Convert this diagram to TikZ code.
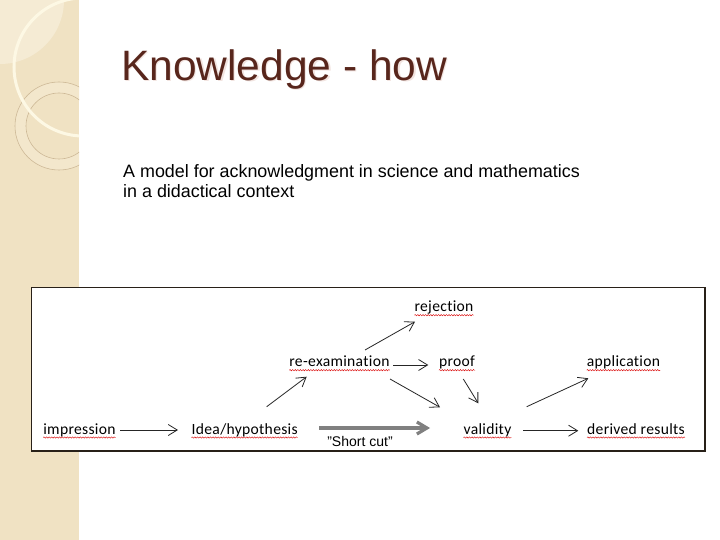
\documentclass[tikz,border=0pt]{standalone}
\usepackage{fontspec}
\setmainfont{Liberation Sans}
\newfontfamily\wordfont[Ligatures={NoCommon},LetterSpace=2]{Carlito}
\usetikzlibrary{arrows.meta,decorations.pathmorphing}

\definecolor{stripe}{RGB}{240,226,195}
\definecolor{stripelight}{RGB}{245,235,212}
\definecolor{ringfill}{RGB}{243,231,204}
\definecolor{ringline}{RGB}{205,184,150}
\definecolor{cream}{RGB}{253,248,228}
\definecolor{titlebrown}{RGB}{88,38,28}
\definecolor{titleshadow}{RGB}{242,228,224}
\definecolor{boxline}{RGB}{40,32,24}

\tikzset{
    word/.style={font=\wordfont\fontsize{15.6}{18}\selectfont, inner sep=0pt, anchor=base},
    arr/.style={draw=black!85, line width=0.8pt, -{Straight Barb[length=9pt,width=11pt]}},
    shortarr/.style={draw=black!50, line width=3.2pt, -{Straight Barb[length=10pt,width=12pt]}},
    squiggle/.style={draw=red!85!black, line width=0.4pt, decorate,
        decoration={snake,amplitude=0.7pt,segment length=2.6pt}},
}

\begin{document}
\begin{tikzpicture}[x=1pt,y=-1pt]
        \useasboundingbox (0,0) rectangle (720,540);
        \fill[white] (0,0) rectangle (720,540);

        % left stripe
        \fill[stripe] (0,0) rectangle (79,540);
        \begin{scope}
            \clip (0,0) rectangle (79,540);
            \fill[stripelight] (0,0) circle (64);
            \fill[ringfill, even odd rule] (59,126) circle (44) (59,126) circle (33);
            \draw[ringline, line width=0.6pt] (59,126) circle (44);
            \draw[ringline, line width=0.6pt] (59,126) circle (33);
            \draw[cream, line width=3pt] (83,67) circle (69);
        \end{scope}

        % title
        \node[font=\fontsize{42.5}{48}\selectfont, text=titleshadow, anchor=base west, inner sep=0pt] (titleshadow) at (122.2,81.9) {Knowledge - how};
        \node[font=\fontsize{42.5}{48}\selectfont, text=titlebrown, anchor=base west, inner sep=0pt] (title) at (121,80.7) {Knowledge - how};
        \node[font=\fontsize{17.9}{20}\selectfont, anchor=base west, inner sep=0pt] (subtitle) at (123,177.7) {A model for acknowledgment in science and mathematics};
        \node[font=\fontsize{17.9}{20}\selectfont, anchor=base west, inner sep=0pt] (subtitletwo) at (123,197.7) {in a didactical context};

        % diagram box
        \draw[boxline, line width=1.5pt, fill=white] (31.5,287.5) rectangle (705,451);

        \node[word] (impression) at (79.5,434) {impression};
        \node[word] (idea) at (244.7,434) {Idea/hypothesis};
        \node[word] (reexam) at (339.5,366.7) {re-examination};
        \node[word] (rejection) at (444,311.7) {rejection};
        \node[word] (proof) at (457,366.7) {proof};
        \node[word] (validity) at (487.5,434) {validity};
        \node[word] (application) at (623.5,366.7) {application};
        \node[word] (derived) at (636,434) {derived results};
        \node[font=\fontsize{14}{16}\selectfont, inner sep=0pt, anchor=base] (shortcut) at (360,446.5) {"Short cut"};

        \draw[squiggle] ([yshift=-3.5pt]impression.base west) -- ([yshift=-3.5pt]impression.base east);
        \draw[squiggle] ([yshift=-3.5pt]idea.base west) -- ([yshift=-3.5pt]idea.base east);
        \draw[squiggle] ([yshift=-3.5pt]reexam.base west) -- ([yshift=-3.5pt]reexam.base east);
        \draw[squiggle] ([yshift=-3.5pt]rejection.base west) -- ([yshift=-3.5pt]rejection.base east);
        \draw[squiggle] ([yshift=-3.5pt]proof.base west) -- ([yshift=-3.5pt]proof.base east);
        \draw[squiggle] ([yshift=-3.5pt]validity.base west) -- ([yshift=-3.5pt]validity.base east);
        \draw[squiggle] ([yshift=-3.5pt]application.base west) -- ([yshift=-3.5pt]application.base east);
        \draw[squiggle] ([yshift=-3.5pt]derived.base west) -- ([yshift=-3.5pt]derived.base east);

        \draw[arr] ([shift={(40.5,-4)}]impression.base) -- ([shift={(-66.7,-4)}]idea.base);
        \draw[arr] ([shift={(22,-27.3)}]idea.base) -- ([shift={(-32.8,10)}]reexam.base);
        \draw[arr] ([shift={(25.5,-16.7)}]reexam.base) -- ([shift={(-29,10)}]rejection.base);
        \draw[arr] ([shift={(53.8,-1.7)}]reexam.base) -- ([shift={(-28.7,-1.7)}]proof.base);
        \draw[arr] ([shift={(50.5,12.3)}]reexam.base) -- ([shift={(-47.5,-26.7)}]validity.base);
        \draw[arr] ([shift={(6.3,12.3)}]proof.base) -- ([shift={(-9.2,-30.7)}]validity.base);
        \draw[shortarr] ([shift={(74.3,-6)}]idea.base) -- ([shift={(-57.5,-6)}]validity.base);
        \draw[arr] ([shift={(35.8,-3.3)}]validity.base) -- ([shift={(-57.7,-3.3)}]derived.base);
        \draw[arr] ([shift={(39.2,-27.3)}]validity.base) -- ([shift={(-35.2,11.6)}]application.base);
\end{tikzpicture}
\end{document}
